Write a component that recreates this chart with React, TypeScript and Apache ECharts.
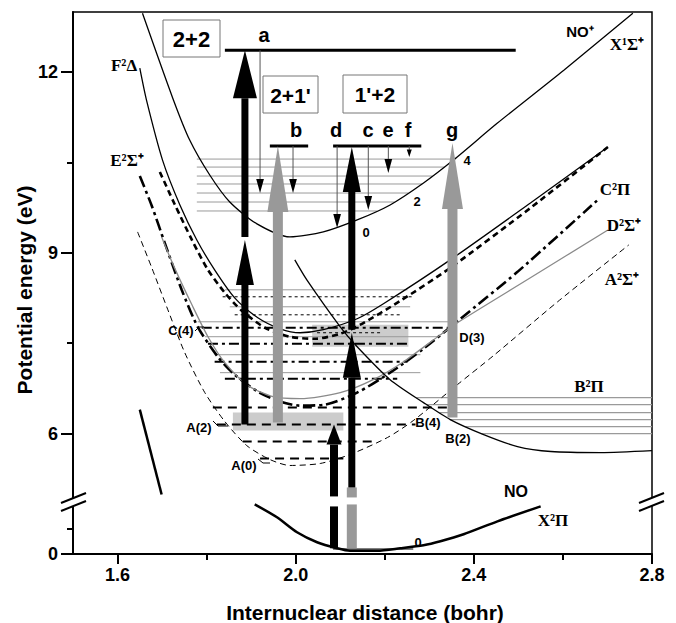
import React, { useEffect, useRef } from "react";
import * as echarts from "echarts";

// ---------- axis break: below the break 0 eV sits at axis value LOW_ZERO ----------
const LOW_ZERO = 4;
const LOW_SCALE = 0.4144; // axis units per eV below the break
const low = (e: number) => LOW_ZERO + e * LOW_SCALE;

// ---------- ticks ----------
const xTickLabels = [1.6, 2.0, 2.4, 2.8];
const xMinorTicks = [1.8, 2.2, 2.6];
const yTickLabelsEv = [0, 6, 9, 12];
const yMinorTicksEv = [1, 7.5, 10.5];

// ---------- potential curves [bohr, eV] ----------
const noPlusX1 = [[1.656,12.978],[1.724,11.569],[1.762,10.873],[1.807,10.293],[1.852,9.845],[1.913,9.481],[1.987,9.265],[2.062,9.348],[2.138,9.547],[2.212,9.796],[2.287,10.16],[2.354,10.541],[2.453,11.155],[2.602,12.033],[2.757,12.978]];
const f2Delta = [[1.65,12.066],[1.665,11.536],[1.701,10.541],[1.74,9.796],[1.778,9.215],[1.818,8.718],[1.863,8.254],[1.915,7.923],[1.965,7.74],[2.01,7.674],[2.062,7.724],[2.138,7.906],[2.197,8.155],[2.347,8.884],[2.527,9.829],[2.701,10.757]];
const e2Sigma = [[1.695,10.343],[1.728,9.812],[1.767,9.215],[1.803,8.718],[1.841,8.337],[1.879,8.039],[1.931,7.757],[1.987,7.608],[2.043,7.574],[2.1,7.657],[2.145,7.807],[2.235,8.204],[2.347,8.751],[2.527,9.746],[2.701,10.757]];
const c2Pi = [[1.65,10.276],[1.677,9.779],[1.706,9.166],[1.744,8.387],[1.78,7.773],[1.825,7.276],[1.863,6.978],[1.915,6.696],[1.965,6.53],[2.01,6.464],[2.066,6.481],[2.138,6.679],[2.212,7.011],[2.287,7.409],[2.37,7.906],[2.498,8.685],[2.678,9.878]];
const d2Sigma = [[1.699,9.265],[1.728,8.751],[1.767,8.138],[1.803,7.608],[1.841,7.177],[1.893,6.796],[1.949,6.613],[2.01,6.58],[2.1,6.679],[2.174,6.895],[2.242,7.193],[2.325,7.641],[2.363,7.84],[2.527,8.586],[2.701,9.381]];
const a2Sigma = [[1.645,9.348],[1.677,8.751],[1.713,8.055],[1.751,7.342],[1.796,6.679],[1.841,6.199],[1.89,5.801],[1.942,5.569],[1.987,5.47],[2.055,5.503],[2.122,5.652],[2.206,5.934],[2.264,6.215],[2.363,6.812],[2.444,7.293],[2.588,8.188],[2.748,9.133]];
const b2Pi = [[1.998,8.884],[2.025,8.552],[2.1,7.773],[2.138,7.442],[2.212,6.895],[2.287,6.514],[2.347,6.232],[2.422,5.983],[2.498,5.784],[2.573,5.702],[2.685,5.685],[2.8,5.718]];
const innerWall = [[1.65,6.398],[1.699,4.989]];
const x2PiGround = [[1.908,1.99],[1.958,1.47],[2.003,0.87],[2.048,0.47],[2.093,0.23],[2.122,0.13],[2.183,0.13],[2.235,0.23],[2.287,0.35],[2.325,0.51],[2.377,0.79],[2.453,1.31],[2.55,1.91]];

// ---------- vibrational levels [eV, bohr from, bohr to] ----------
const ionLevels = [[10.558,1.778,2.356],[10.425,1.778,2.334],[10.276,1.778,2.307],[10.144,1.778,2.284],[9.994,1.778,2.253],[9.845,1.778,2.222],[9.696,1.778,2.183]];
const grayLevels = [[8.387,1.841,2.251],[8.105,1.852,2.257],[7.856,1.78,2.363],[7.608,1.796,2.325],[7.309,1.818,2.28],[7.011,1.83,2.28]];
const dottedLevels = [[8.271,1.836,2.264],[7.972,1.863,2.235],[7.674,2.048,2.19]];
const dashDotLevels = [[7.757,1.789,2.347],[7.492,1.803,2.251],[7.193,1.818,2.251],[6.911,1.841,2.228]];
const aLevels = [[6.431,1.814,2.341],[6.149,1.823,2.269],[5.867,1.881,2.183],[5.586,1.92,2.107]];
const bLevels = [[6.597,2.271,2.8],[6.481,2.293,2.8],[6.348,2.323,2.8],[6.232,2.347,2.8],[6.116,2.381,2.8],[6.0,2.417,2.8]];
const finalLevels = [[12.365,1.841,2.494],[10.773,1.942,2.028],[10.773,2.084,2.282]];
const groundLevelEv = [[0.2,2.084,2.264]];

// ---------- excitation arrows [bohr, eV from, eV to] ----------
const blackArrowsBig = [[1.886,9.265,12.365]];
const blackArrowsMid = [[1.886,6.149,9.215],[2.126,7.724,10.757],[2.126,5.105,7.674]];
const blackArrowsSmall = [[2.086,4.956,6.149]];
const grayArrows = [[1.96,6.182,10.773],[2.352,6.265,10.823]];
const blackBarsEv = [[2.086,0.23,1.906]];
const grayBarsEv = [[2.126,0.23,1.986]];
const grayBarsUpper = [[2.126,4.939,5.105]];
const downArrows = [[1.92,12.365,9.994],[1.994,10.773,9.994],[2.093,10.773,9.414],[2.163,10.773,9.713],[2.208,10.773,10.326],[2.255,10.773,10.591]];
// ---------- shaded regions [bohr from, bohr to, eV top, eV bottom] ----------
const shades = [[1.859,2.107,6.348,6.05],[2.037,2.253,7.807,7.442]];

const SANS = "'Liberation Sans', Arial, sans-serif";
const SERIF = "'Liberation Serif', 'Times New Roman', serif";

const curve = (data: number[][], color: string, width: number, type: any) => ({
  type: "line",
  data,
  showSymbol: false,
  symbol: "none",
  smooth: 0.25,
  silent: true,
  z: 3,
  lineStyle: { color, width, type, cap: "butt" },
});

const arrowSeries = (data: number[][], color: string, shaftW: number, headW: number, headL: number, z: number) => ({
  type: "custom",
  data,
  z,
  silent: true,
  renderItem: (_p: any, api: any) => {
    const x = api.value(0), y0 = api.value(1), y1 = api.value(2);
    const a = api.coord([x, y0]);
    const b = api.coord([x, y1]);
    const up = b[1] < a[1];
    const len = Math.abs(b[1] - a[1]);
    const hl = Math.min(headL, len);
    const base = headL > 0 ? (up ? b[1] + hl : b[1] - hl) : b[1];
    const top = Math.min(a[1], base);
    const h = Math.abs(base - a[1]);
    const children: any[] = [
      { type: "rect", shape: { x: a[0] - shaftW / 2, y: top, width: shaftW, height: h }, style: { fill: color } },
    ];
    if (headL > 0) {
      children.push({
        type: "polygon",
        shape: { points: [[b[0], b[1]], [b[0] - headW / 2, base], [b[0] + headW / 2, base]] },
        style: { fill: color },
      });
    }
    return { type: "group", children };
  },
});

const levelSeries = (data: number[][], stroke: string, width: number, dash: number[] | null, z: number) => ({
  type: "custom",
  data,
  z,
  silent: true,
  renderItem: (_p: any, api: any) => {
    const y = api.value(0), x0 = api.value(1), x1 = api.value(2);
    const a = api.coord([x0, y]);
    const b = api.coord([x1, y]);
    return {
      type: "line",
      shape: { x1: a[0], y1: a[1], x2: b[0], y2: b[1] },
      style: { stroke, lineWidth: width, lineDash: dash || undefined },
    };
  },
});

const downArrowSeries = (data: number[][]) => ({
  type: "custom",
  data,
  z: 6,
  silent: true,
  renderItem: (_p: any, api: any) => {
    const x = api.value(0), y0 = api.value(1), y1 = api.value(2);
    const a = api.coord([x, y0]);
    const b = api.coord([x, y1]);
    const len = b[1] - a[1];
    const hl = Math.min(14, len * 0.7);
    const hw = Math.max(5, hl * 0.55);
    return {
      type: "group",
      children: [
        { type: "line", shape: { x1: a[0], y1: a[1], x2: b[0], y2: b[1] - hl * 0.5 }, style: { stroke: "#555", lineWidth: 1 } },
        { type: "polygon", shape: { points: [[b[0], b[1]], [b[0] - hw / 2, b[1] - hl], [b[0] + hw / 2, b[1] - hl]] }, style: { fill: "#000" } },
      ],
    };
  },
});

const shadeSeries = (data: number[][]) => ({
  type: "custom",
  data,
  z: 1,
  silent: true,
  renderItem: (_p: any, api: any) => {
    const a = api.coord([api.value(0), api.value(2)]);
    const b = api.coord([api.value(1), api.value(3)]);
    return { type: "rect", shape: { x: a[0], y: a[1], width: b[0] - a[0], height: b[1] - a[1] }, style: { fill: "#cccccc" } };
  },
});

const txt = (text: string, x: number, y: number, font: string, extra: any = {}) => ({
  type: "text",
  x,
  y,
  z: 100,
  ...extra,
  style: { text, font, fill: "#000", align: "center", verticalAlign: "middle", textAlign: "center", textVerticalAlign: "middle" },
});

const box = (x: number, y: number, w: number, h: number) => ({
  type: "rect",
  z: 99,
  shape: { x, y, width: w, height: h },
  style: { fill: "#fff", stroke: "#777", lineWidth: 1 },
});

const seg = (pts: number[][], w = 1) => ({
  type: "polyline",
  z: 101,
  shape: { points: pts },
  style: { stroke: "#000", lineWidth: w, fill: "none" },
});

export default function App() {
  const ref = useRef<HTMLDivElement>(null);
  useEffect(() => {
    if (!ref.current) return;
    const chart = echarts.init(ref.current, undefined, { renderer: "svg" });
    const yMajor = yTickLabelsEv.map((e) => (e < 3 ? low(e) : e));
    const yMinor = yMinorTicksEv.map((e) => (e < 3 ? low(e) : e));
    const axisFont = { fontFamily: SANS, fontWeight: "bold", fontSize: 18, color: "#000" };
    const bigFont = `bold 21px ${SANS}`;
    const letterFont = `bold 20px ${SANS}`;
    const smallFont = `bold 13px ${SANS}`;
    const stateFont = `bold 17px ${SERIF}`;
    const titleFont = `bold 21px ${SANS}`;
    const toLow = (arr: number[][]) => arr.map(([x, e]) => [x, low(e)]);
    const barsLow = (arr: number[][]) => arr.map(([x, e0, e1]) => [x, low(e0), low(e1)]);
    const levelLow = (arr: number[][]) => arr.map(([e, x0, x1]) => [low(e), x0, x1]);

    chart.setOption({
      animation: false,
      backgroundColor: "#fff",
      grid: { left: 73, right: 24, top: 12, bottom: 69, show: true, borderColor: "#000", borderWidth: 1.5, backgroundColor: "transparent" },
      xAxis: [
        {
          type: "value", min: 1.5, max: 2.8,
          axisLine: { show: true, onZero: false, lineStyle: { color: "#000", width: 2 } },
          axisTick: { show: true, customValues: xTickLabels, length: 10, lineStyle: { color: "#000", width: 2 } },
          axisLabel: { ...axisFont, customValues: xTickLabels, margin: 12, formatter: (v: number) => v.toFixed(1) },
          splitLine: { show: false },
        },
        {
          type: "value", min: 1.5, max: 2.8, position: "bottom",
          axisLine: { show: false },
          axisTick: { show: true, customValues: xMinorTicks, length: 6, lineStyle: { color: "#000", width: 2 } },
          axisLabel: { show: false },
          splitLine: { show: false },
        },
      ],
      yAxis: [
        {
          type: "value", min: 4, max: 13,
          axisLine: { show: true, onZero: false, lineStyle: { color: "#000", width: 2 } },
          axisTick: { show: true, customValues: yMajor, length: 12, lineStyle: { color: "#000", width: 2 } },
          axisLabel: {
            ...axisFont, customValues: yMajor, margin: 15,
            formatter: (v: number) => String(Math.abs(v - LOW_ZERO) < 1e-6 ? 0 : v),
          },
          splitLine: { show: false },
        },
        {
          type: "value", min: 4, max: 13, position: "left",
          axisLine: { show: false },
          axisTick: { show: true, customValues: yMinor, length: 6, lineStyle: { color: "#000", width: 2 } },
          axisLabel: { show: false },
          splitLine: { show: false },
        },
      ],
      series: [
        shadeSeries(shades),
        levelSeries(ionLevels, "#9a9a9a", 1, null, 2),
        levelSeries(grayLevels, "#9a9a9a", 1, null, 2),
        levelSeries(bLevels, "#9a9a9a", 1.2, null, 2),
        levelSeries(dottedLevels, "#000", 1, [3, 3], 2),
        levelSeries(dashDotLevels, "#000", 2, [10, 4, 3, 4], 2),
        levelSeries(aLevels, "#000", 2, [9, 6], 2),
        levelSeries(levelLow(groundLevelEv), "#000", 1, null, 2),
        levelSeries(finalLevels, "#000", 3, null, 4),
        curve(noPlusX1, "#000", 1.3, "solid"),
        curve(f2Delta, "#000", 1.3, "solid"),
        curve(e2Sigma, "#000", 2.6, [6, 4]),
        curve(c2Pi, "#000", 2.6, [12, 4, 3, 4]),
        curve(d2Sigma, "#8a8a8a", 1.3, "solid"),
        curve(a2Sigma, "#000", 1, [6, 4]),
        curve(b2Pi, "#000", 1.3, "solid"),
        curve(innerWall, "#000", 2.5, "solid"),
        curve(toLow(x2PiGround), "#000", 2.5, "solid"),
        arrowSeries(grayArrows, "#999999", 10, 21, 66, 5),
        arrowSeries(barsLow(grayBarsEv), "#999999", 10, 0, 0, 5),
        arrowSeries(grayBarsUpper, "#999999", 10, 0, 0, 5),
        arrowSeries(blackArrowsBig, "#000", 7, 24, 48, 6),
        arrowSeries(blackArrowsMid, "#000", 7, 18, 45, 6),
        arrowSeries(blackArrowsSmall, "#000", 8, 15, 20, 6),
        arrowSeries(barsLow(blackBarsEv), "#000", 8, 0, 0, 6),
        downArrowSeries(downArrows),
      ],
      graphic: [
        // axis breaks
        { type: "polygon", z: 100, shape: { points: [[61, 503], [86, 493], [86, 501], [61, 511]] }, style: { fill: "#fff" } },
        seg([[61, 503], [86, 493]], 2),
        seg([[61, 511], [86, 501]], 2),
        { type: "polygon", z: 100, shape: { points: [[639, 503], [664, 493], [664, 501], [639, 511]] }, style: { fill: "#fff" } },
        seg([[639, 503], [664, 493]], 2),
        seg([[639, 511], [664, 501]], 2),
        // scheme boxes
        box(163, 20, 57, 37),
        txt("2+2", 191.5, 39, `bold 22px ${SANS}`),
        box(263, 76, 55, 37),
        txt("2+1'", 290.5, 95, bigFont),
        box(343, 75, 64, 38),
        txt("1'+2", 375, 94, bigFont),
        txt("a", 264, 35, letterFont),
        txt("b", 296, 130, letterFont),
        txt("d", 336, 130, letterFont),
        txt("c", 368, 130, letterFont),
        txt("e", 388, 130, letterFont),
        txt("f", 408, 130, letterFont),
        txt("g", 452, 130, letterFont),
        // state labels
        txt("NO⁺", 580, 31, `bold 15px ${SANS}`),
        txt("X¹Σ⁺", 627, 44, stateFont),
        txt("F²Δ", 124, 65, stateFont),
        txt("E²Σ⁺", 127, 160, stateFont),
        txt("C²Π", 615, 189, stateFont),
        txt("D²Σ⁺", 624, 225, stateFont),
        txt("A²Σ⁺", 622, 279, stateFont),
        txt("B²Π", 589, 386, stateFont),
        txt("X²Π", 553, 520, stateFont),
        txt("NO", 516, 491, `bold 16px ${SANS}`),
        // level labels
        txt("4", 467, 160, smallFont),
        txt("2", 417, 201, smallFont),
        txt("0", 366, 232, smallFont),
        txt("0", 418, 542, smallFont),
        txt("C(4)", 181, 330, smallFont),
        txt("A(2)", 199, 427, smallFont),
        txt("A(0)", 244, 465, smallFont),
        txt("B(4)", 428, 422, smallFont),
        txt("B(2)", 458, 438, smallFont),
        txt("D(3)", 472, 337, smallFont),
        seg([[195, 331], [199, 327], [204, 327]]),
        seg([[213, 421], [218, 426], [228, 426]]),
        seg([[258, 459], [263, 463], [270, 463]]),
        // axis titles
        txt("Internuclear distance (bohr)", 365, 612, titleFont),
        txt("Potential energy (eV)", 24, 290, titleFont, { rotation: Math.PI / 2 }),
      ],
    });
    return () => chart.dispose();
  }, []);
  return <div ref={ref} style={{ position: "fixed", left: 0, top: 0, width: 676, height: 623, background: "#fff" }} />;
}
